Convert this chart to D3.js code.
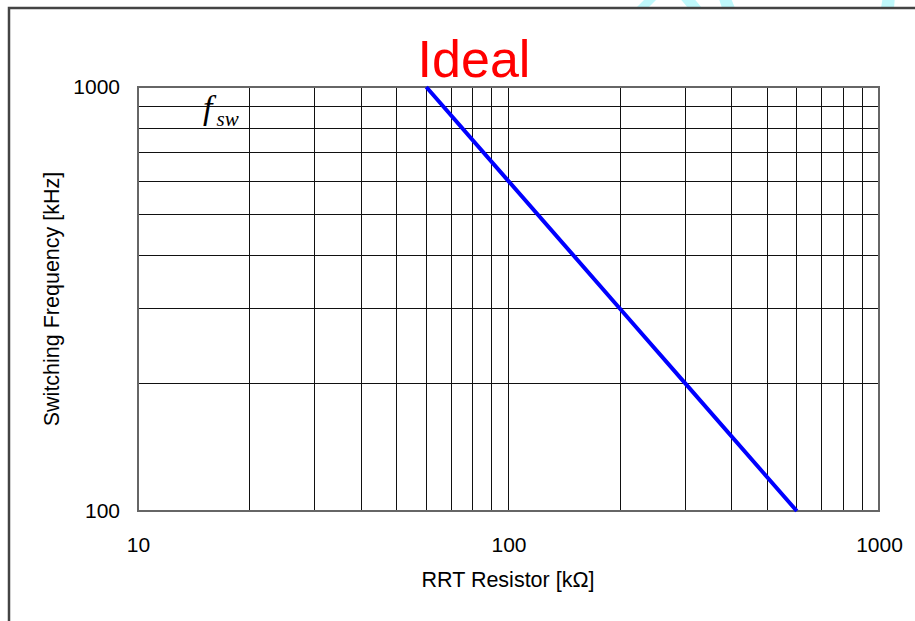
<!DOCTYPE html>
<html>
<head>
<meta charset="utf-8">
<script src="https://cdn.jsdelivr.net/npm/d3@7"></script>
<style>
  html, body { margin: 0; padding: 0; background: #fff; }
  svg { display: block; }
</style>
</head>
<body>
<svg id="chart" width="915" height="621"></svg>
<script>
// ---- data ----
const resistorKOhm = [60, 100, 200, 300, 600];
const freqKHz      = [1000, 600, 300, 200, 100];
const xTickValues  = [10, 100, 1000];
const yTickValues  = [100, 1000];
const xGridValues  = [20, 30, 40, 50, 60, 70, 80, 90, 100, 200, 300, 400, 500, 600, 700, 800, 900];
const yGridValues  = [200, 300, 400, 500, 600, 700, 800, 900];
const titleText = "Ideal";
const xTitle = "RRT Resistor [kΩ]";
const yTitle = "Switching Frequency [kHz]";

const svg = d3.select("#chart");
const W = 915, H = 621;
const m = { left: 138, right: 915 - 879, top: 87, bottom: 621 - 511 };

const x = d3.scaleLog().domain([10, 1000]).range([m.left, W - m.right]);
const y = d3.scaleLog().domain([100, 1000]).range([H - m.bottom, m.top]);

// faint watermark fragments above the frame
const wm = svg.append("g").attr("fill", "#bff8fb");
wm.append("polygon").attr("points", "636,8 648,8 660,-4 648,-4");
wm.append("polygon").attr("points", "688,8 702,8 692,-4 678,-4");
wm.append("polygon").attr("points", "722,8 735,8 730,-4 718,-4");
wm.append("polygon").attr("points", "881,8 894,8 895,-4 883,-4");

// outer frame (top + left)
svg.append("path")
  .attr("d", `M9,${H} L9,8 L${W},8`)
  .attr("fill", "none").attr("stroke", "#444").attr("stroke-width", 2.5);

// grid
const grid = svg.append("g").attr("stroke", "#111").attr("stroke-width", 1).attr("shape-rendering", "crispEdges");
grid.selectAll("line.v").data(xGridValues).join("line")
  .attr("class", "v")
  .attr("x1", d => x(d)).attr("x2", d => x(d))
  .attr("y1", y(1000)).attr("y2", y(100));
grid.selectAll("line.h").data(yGridValues).join("line")
  .attr("class", "h")
  .attr("y1", d => y(d)).attr("y2", d => y(d))
  .attr("x1", x(10)).attr("x2", x(1000));

// plot border
svg.append("rect")
  .attr("x", x(10)).attr("y", y(1000))
  .attr("width", x(1000) - x(10)).attr("height", y(100) - y(1000))
  .attr("fill", "none").attr("stroke", "#666").attr("stroke-width", 2);

// axes (labels only)
const font = "'Liberation Sans', Arial, sans-serif";
const xAxis = svg.append("g")
  .attr("transform", `translate(0,${y(100)})`)
  .call(d3.axisBottom(x).tickValues(xTickValues).tickFormat(d3.format("d")).tickSize(0).tickPadding(26));
const yAxis = svg.append("g")
  .attr("transform", `translate(${x(10)},0)`)
  .call(d3.axisLeft(y).tickValues(yTickValues).tickFormat(d3.format("d")).tickSize(0).tickPadding(18));
[xAxis, yAxis].forEach(a => {
  a.select(".domain").remove();
  a.selectAll("text").attr("font-family", font).attr("font-size", 21).attr("fill", "#000");
});

// data line
svg.append("path")
  .datum(resistorKOhm.map((r, i) => [r, freqKHz[i]]))
  .attr("d", d3.line().x(d => x(d[0])).y(d => y(d[1])))
  .attr("fill", "none").attr("stroke", "#0000ff").attr("stroke-width", 4);

// title
svg.append("text")
  .attr("x", 474).attr("y", 77)
  .attr("text-anchor", "middle")
  .attr("font-family", font).attr("font-size", 52)
  .attr("fill", "#ff0000")
  .text(titleText);

// axis titles
svg.append("text")
  .attr("x", 508).attr("y", 587)
  .attr("text-anchor", "middle")
  .attr("font-family", font).attr("font-size", 21.5)
  .attr("fill", "#000")
  .text(xTitle);
svg.append("text")
  .attr("transform", `translate(59,${(y(100) + y(1000)) / 2}) rotate(-90)`)
  .attr("text-anchor", "middle")
  .attr("font-family", font).attr("font-size", 21.5)
  .attr("fill", "#000")
  .text(yTitle);

// f_sw label
const fl = svg.append("text")
  .attr("x", 203).attr("y", 119)
  .attr("font-family", "'Liberation Serif', 'Times New Roman', serif")
  .attr("font-style", "italic").attr("fill", "#000");
fl.append("tspan").attr("font-size", 34).text("f");
fl.append("tspan").attr("font-size", 21).attr("dx", 4).attr("dy", 7).text("sw");
</script>
</body>
</html>
